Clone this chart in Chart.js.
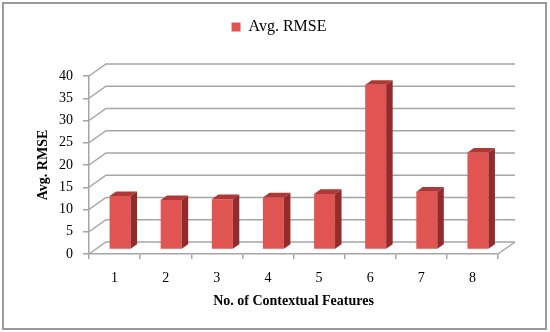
<!DOCTYPE html>
<html>
<head>
<meta charset="utf-8">
<script src="https://cdn.jsdelivr.net/npm/chart.js@4.4.1/dist/chart.umd.min.js"></script>
<style>
    html, body { margin: 0; padding: 0; background: #ffffff; }
    #wrap { position: relative; width: 550px; height: 332px; }
    #frame {
        position: absolute; left: 2px; top: 2px; width: 545px; height: 328px;
        box-sizing: border-box; border: 2px solid #9a9a9a; pointer-events: none;
    }
</style>
</head>
<body>
<div id="wrap">
    <canvas id="rmseChart" width="550" height="332"></canvas>
    <div id="frame"></div>
</div>
<script>
const featureCounts = ['1', '2', '3', '4', '5', '6', '7', '8'];
const avgRmse = [12.0, 11.1, 11.3, 11.7, 12.5, 37.0, 13.0, 21.8];
const seriesLabel = 'Avg. RMSE';
const yTitle = 'Avg. RMSE';
const xTitle = 'No. of Contextual Features';

const serifFont = '"Palatino Linotype", "Book Antiqua", Palatino, "Liberation Serif", serif';
const gridGrey = '#a5a5a5';
const frontRed = '#e05451';
const sideRed = '#922b29';
const topRed = '#ae3836';

// depth of the back wall and of the bars (pixels)
const wallDepth = { x: 17, y: -12 };
const barShift = { x: 5.5, y: -4.5 };
const barDepth = { x: 6.5, y: -4.6 };
const legendShift = 30;

const fake3d = {
    id: 'fake3d',
    afterLayout(chart) {
        // legend sits a bit right of the canvas centre in the original
        chart.legend.left += legendShift;
        chart.legend.right += legendShift;
    },
    beforeDatasetsDraw(chart) {
        const { ctx, chartArea } = chart;
        const yScale = chart.scales.y;
        ctx.save();
        ctx.strokeStyle = gridGrey;
        ctx.lineWidth = 1.5;
        yScale.ticks.forEach(t => {
            const py = yScale.getPixelForValue(t.value);
            ctx.beginPath();
            ctx.moveTo(chartArea.left, py);
            ctx.lineTo(chartArea.left + wallDepth.x, py + wallDepth.y);
            ctx.lineTo(chartArea.right + wallDepth.x, py + wallDepth.y);
            ctx.stroke();
        });
        ctx.beginPath();
        ctx.moveTo(chartArea.right, chartArea.bottom);
        ctx.lineTo(chartArea.right + wallDepth.x, chartArea.bottom + wallDepth.y);
        ctx.stroke();
        ctx.restore();

        ctx.save();
        ctx.translate(barShift.x, barShift.y);
    },
    afterDatasetsDraw(chart) {
        const ctx = chart.ctx;
        chart.getDatasetMeta(0).data.forEach(bar => {
            const { x, y, base, width } = bar.getProps(['x', 'y', 'base', 'width'], true);
            const l = x - width / 2;
            const r = x + width / 2;
            ctx.fillStyle = sideRed;
            ctx.beginPath();
            ctx.moveTo(r, base);
            ctx.lineTo(r + barDepth.x, base + barDepth.y);
            ctx.lineTo(r + barDepth.x, y + barDepth.y);
            ctx.lineTo(r, y);
            ctx.closePath();
            ctx.fill();
            ctx.fillStyle = topRed;
            ctx.beginPath();
            ctx.moveTo(l, y);
            ctx.lineTo(l + barDepth.x, y + barDepth.y);
            ctx.lineTo(r + barDepth.x, y + barDepth.y);
            ctx.lineTo(r, y);
            ctx.closePath();
            ctx.fill();
        });
        ctx.restore();
    }
};

new Chart(document.getElementById('rmseChart'), {
    type: 'bar',
    data: {
        labels: featureCounts,
        datasets: [{
            label: seriesLabel,
            data: avgRmse,
            backgroundColor: frontRed,
            borderWidth: 0,
            categoryPercentage: 1,
            barPercentage: 0.41,
            clip: false
        }]
    },
    options: {
        responsive: false,
        animation: false,
        layout: { padding: { top: 12, right: 52, bottom: 0, left: 0 } },
        plugins: {
            legend: {
                position: 'top',
                labels: {
                    boxWidth: 9,
                    boxHeight: 9,
                    padding: 7,
                    color: '#000',
                    font: { family: serifFont, size: 16 }
                }
            },
            // empty title used as spacer between legend and plot
            title: {
                display: true,
                text: '',
                weight: 500,
                font: { size: 10 },
                padding: { top: 0, bottom: 19 }
            },
            tooltip: { enabled: false }
        },
        scales: {
            x: {
                afterFit: s => { s.height = 78; },
                grid: { drawOnChartArea: false, drawTicks: true, tickLength: 5, color: gridGrey, lineWidth: 1.5, offset: true },
                border: { display: true, color: gridGrey, width: 1.5 },
                ticks: { color: '#000', padding: 11, font: { family: serifFont, size: 14 } },
                title: {
                    display: true, text: xTitle, color: '#000',
                    padding: { top: 0, bottom: 22 },
                    font: { family: serifFont, size: 14, weight: 'bold' }
                }
            },
            y: {
                min: 0,
                max: 40,
                afterFit: s => { s.width = 89; },
                grid: { drawOnChartArea: false, drawTicks: true, tickLength: 6, color: gridGrey, lineWidth: 1.5 },
                border: { display: true, color: gridGrey, width: 1.5 },
                ticks: { stepSize: 5, color: '#000', padding: 10, font: { family: serifFont, size: 14 } },
                title: {
                    display: true, text: yTitle, color: '#000',
                    padding: { top: 35, bottom: 0 },
                    font: { family: serifFont, size: 14, weight: 'bold' }
                }
            }
        }
    },
    plugins: [fake3d]
});
</script>
</body>
</html>
